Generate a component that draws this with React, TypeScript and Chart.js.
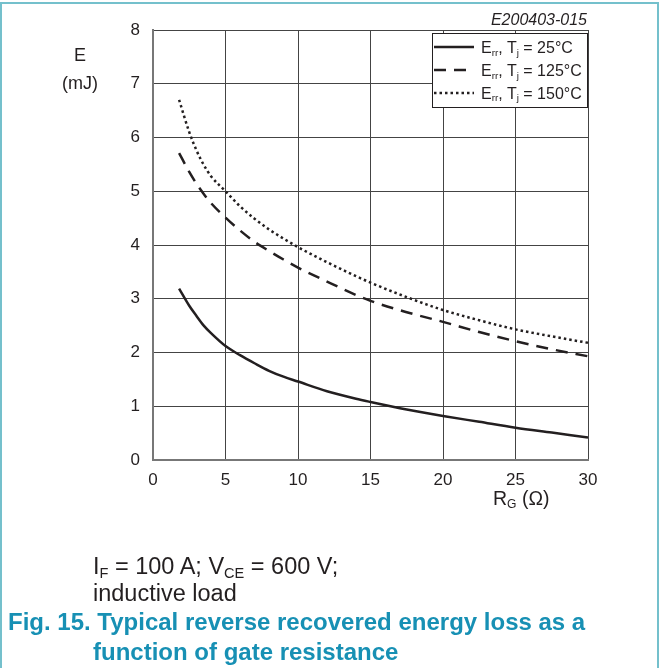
import React, { useEffect, useRef } from 'react';
import { Chart, registerables } from 'chart.js';

Chart.register(...registerables);

// Gate resistance R_G (Ω)
const rg = [1.8, 2.5, 3, 3.5, 4, 5, 6, 7, 8, 9, 10, 12, 14, 15, 17.5, 20, 22.5, 25, 27.5, 30];
// E_rr (mJ), Tj = 25°C
const err25 = [3.19, 2.87, 2.68, 2.5, 2.36, 2.12, 1.95, 1.8, 1.66, 1.55, 1.46, 1.28, 1.14, 1.08, 0.94, 0.82, 0.71, 0.6, 0.51, 0.42];
// E_rr (mJ), Tj = 125°C
const err125 = [5.71, 5.36, 5.14, 4.95, 4.78, 4.51, 4.27, 4.06, 3.89, 3.73, 3.58, 3.32, 3.07, 2.96, 2.75, 2.57, 2.38, 2.21, 2.06, 1.93];
// E_rr (mJ), Tj = 150°C
const err150 = [6.7, 6.1, 5.76, 5.49, 5.28, 5.0, 4.72, 4.49, 4.29, 4.12, 3.96, 3.68, 3.42, 3.3, 3.03, 2.79, 2.6, 2.43, 2.3, 2.18];

const xMin = 0;
const xMax = 30;
const xStep = 5;
const yMin = 0;
const yMax = 8;
const yStep = 1;

const FONT = '"Liberation Sans", Arial, Helvetica, sans-serif';
const INK = '#231f20';
const TEAL = '#1790b4';
const FRAME = '#74c0cc';

const Sub = ({ children }: { children: React.ReactNode }) => (
  <span style={{ fontSize: '0.62em', position: 'relative', top: '0.28em', lineHeight: 0 }}>{children}</span>
);

export default function App() {
  const ref = useRef<HTMLCanvasElement | null>(null);

  useEffect(() => {
    if (!ref.current) return;
    const mk = (ys: number[]) => rg.map((x, i) => ({ x, y: ys[i] }));
    const chart = new Chart(ref.current, {
      type: 'line',
      data: {
        datasets: [
          { label: 'Err, Tj = 25°C', data: mk(err25), borderColor: INK, borderWidth: 2.5, pointRadius: 0 },
          { label: 'Err, Tj = 125°C', data: mk(err125), borderColor: INK, borderWidth: 2.5, pointRadius: 0, borderDash: [12, 8] },
          { label: 'Err, Tj = 150°C', data: mk(err150), borderColor: INK, borderWidth: 2.5, pointRadius: 0, borderDash: [2.5, 3] },
        ],
      },
      options: {
        responsive: false,
        maintainAspectRatio: false,
        animation: false,
        layout: { padding: { left: 0, top: 30, right: 71, bottom: 168 } },
        elements: { line: { tension: 0.4, cubicInterpolationMode: 'monotone', fill: false } },
        plugins: { legend: { display: false }, tooltip: { enabled: false } },
        scales: {
          x: {
            type: 'linear',
            min: xMin,
            max: xMax,
            ticks: { stepSize: xStep, color: INK, font: { family: FONT, size: 17 }, padding: 10, maxRotation: 0 },
            grid: { color: '#444', lineWidth: 1, drawTicks: false },
            border: { color: '#777', width: 2 },
            afterFit: (s: any) => { s.height = 40; },
          },
          y: {
            type: 'linear',
            min: yMin,
            max: yMax,
            ticks: { stepSize: yStep, color: INK, font: { family: FONT, size: 17 }, padding: 13 },
            grid: { color: '#444', lineWidth: 1, drawTicks: false },
            border: { color: '#777', width: 2 },
            afterFit: (s: any) => { s.width = 153; },
          },
        },
      } as any,
    });
    return () => chart.destroy();
  }, []);

  const txt = (extra: React.CSSProperties): React.CSSProperties => ({
    position: 'absolute',
    fontFamily: FONT,
    lineHeight: 1,
    whiteSpace: 'nowrap',
    color: INK,
    ...extra,
  });

  const legendRows = [
    { t: '25°C', dash: '' },
    { t: '125°C', dash: '12 8' },
    { t: '150°C', dash: '2.5 3' },
  ];

  return (
    <div style={{ position: 'absolute', left: 0, top: 0, width: 659, height: 668, overflow: 'hidden', background: '#fff' }}>
      <div style={{ position: 'absolute', left: 0, top: 2, width: 655, height: 700, borderTop: `2px solid ${FRAME}`, borderLeft: `2px solid ${FRAME}`, borderRight: `2px solid ${FRAME}` }} />
      <canvas ref={ref} width={659} height={668} style={{ position: 'absolute', left: 0, top: 0, display: 'block' }} />

      <div style={txt({ left: 60, width: 40, textAlign: 'center', top: 46, fontSize: 18 })}>E</div>
      <div style={txt({ left: 55, width: 50, textAlign: 'center', top: 74, fontSize: 18 })}>(mJ)</div>

      <div style={txt({ left: 493, top: 489, fontSize: 19.5 })}>
        R<Sub>G</Sub> (Ω)
      </div>

      <div style={txt({ right: 659 - 587, top: 12, fontSize: 16, fontStyle: 'italic' })}>E200403-015</div>

      <div style={{ position: 'absolute', left: 432, top: 33, width: 156, height: 75, border: `1px solid ${INK}`, background: '#fff', boxSizing: 'border-box' }}>
        {legendRows.map((r, i) => (
          <div key={i} style={{ position: 'absolute', left: 0, top: 5 + i * 22.8, height: 16, width: 154 }}>
            <svg width={42} height={16} style={{ position: 'absolute', left: 1, top: 0 }}>
              <line x1={0} y1={8} x2={40} y2={8} stroke={INK} strokeWidth={2.5} strokeDasharray={r.dash || undefined} />
            </svg>
            <div style={txt({ left: 48, top: 1, fontSize: 16 })}>
              E<Sub>rr</Sub>, T<Sub>j</Sub> = {r.t}
            </div>
          </div>
        ))}
      </div>

      <div style={txt({ left: 93, top: 555, fontSize: 23.5 })}>
        I<Sub>F</Sub> = 100 A; V<Sub>CE</Sub> = 600 V;
      </div>
      <div style={txt({ left: 93, top: 582, fontSize: 23.5 })}>inductive load</div>
      <div style={txt({ left: 8, top: 610, fontSize: 24, fontWeight: 'bold', color: TEAL })}>
        Fig. 15. Typical reverse recovered energy loss as a
      </div>
      <div style={txt({ left: 93, top: 640, fontSize: 24, fontWeight: 'bold', color: TEAL })}>
        function of gate resistance
      </div>
    </div>
  );
}
